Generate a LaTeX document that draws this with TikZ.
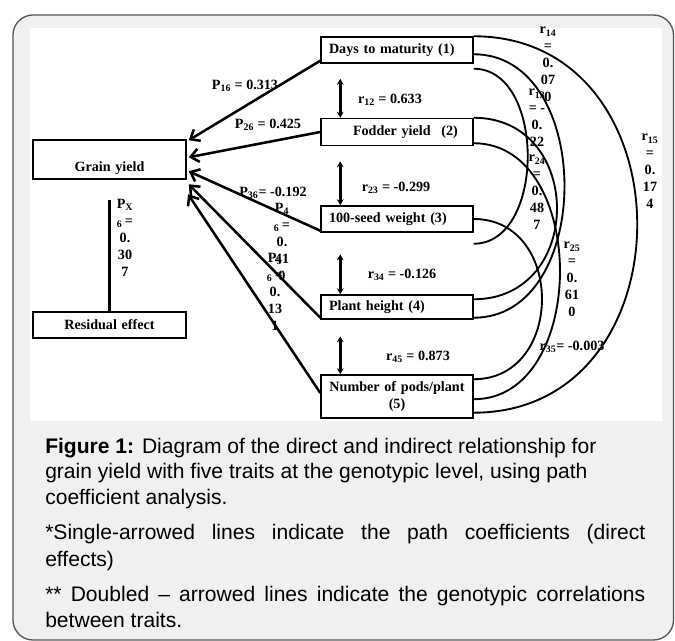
\documentclass[tikz,border=0pt]{standalone}
\usepackage{fontspec}
\setmainfont{Liberation Serif}
\newfontfamily\capfont{Liberation Sans}
\usepackage{tikz}
\usetikzlibrary{arrows.meta}

\definecolor{pagegray}{RGB}{239,240,242}
\definecolor{framegray}{RGB}{85,85,85}

\tikzset{
	trait/.style={draw, rectangle, line width=1.1pt, minimum width=114pt, text width=108pt, inner xsep=3pt, align=left, font=\fontsize{10.6}{12.75}\selectfont\bfseries},
	lbl/.style={inner sep=0pt, font=\fontsize{10.6}{12.75}\selectfont\bfseries},
	stack/.style={lbl, anchor=north, align=center},
	parr/.style={line width=1.9pt, -{Straight Barb[length=6pt,width=10pt]}},
	dbl/.style={line width=1.9pt, {Stealth[length=4.5pt,width=5pt]}-{Stealth[length=4.5pt,width=5pt]}},
	corr/.style={line width=1.4pt},
	captext/.style={anchor=base west, inner sep=0pt, font=\capfont\fontsize{15.8}{18.75}\selectfont}
}

\begin{document}
\begin{tikzpicture}[x=0.75pt, y=-0.75pt]
	\useasboundingbox (0,0) rectangle (675,641);
	\draw[framegray, fill=pagegray, line width=1pt, rounded corners=15pt] (13,15) rectangle (673.5,640);
	\fill[white] (30,28) rectangle (662,421);
	
	% traits
	\node[trait, minimum height=19.5pt] (TR1) at (397,50) {\hspace*{3pt}Days to maturity (1)};
	\node[trait, minimum height=20.25pt, below of=TR1, node distance=61.5pt] (TR2) {\hspace*{21pt}Fodder yield\hspace{8pt}(2)};
	\node[trait, minimum height=19.5pt, below of=TR2, node distance=65.25pt] (TR3) {\hspace*{3pt}100-seed weight (3)};
	\node[trait, minimum height=18pt, below of=TR3, node distance=66pt] (TR4) {\hspace*{3pt}Plant height (4)};
	\node[trait, minimum height=32.25pt, align=center, below of=TR4, node distance=67.1pt] (TR5) {Number of pods/plant\\(5)};
	
	\node[trait, align=center, minimum width=114.75pt, text height=21.75pt, text depth=3pt, inner ysep=2.25pt] (GY) at (109.5,159.5) {Grain yield};
	\node[trait, align=center, minimum width=114.75pt, minimum height=19.5pt, below of=GY, node distance=124.1pt] (RES) {Residual effect};
	
	% labels
	\node[lbl] (P16) at (245,86) {P\textsubscript{16} = 0.313};
	\node[lbl] (P26) at (268,125) {P\textsubscript{26} = 0.425};
	\node[lbl] (P36) at (273,193) {P\textsubscript{36}= -0.192};
	\node[stack] (P46) at (282,203) {P\textsubscript{4}\\\textsubscript{6}\,=\\0.\\41\\0};
	\node[stack] (P56) at (275,253) {P\textsubscript{5}\\\textsubscript{6}\,=\\0.\\13\\1};
	\node[stack] (PX6) at (125,199) {P\textsubscript{X}\\\textsubscript{6}\,=\\0.\\30\\7};
	
	\node[lbl] (R12) at (390,100) {r\textsubscript{12} = 0.633};
	\node[lbl] (R23) at (396,188) {r\textsubscript{23} = -0.299};
	\node[lbl] (R34) at (402,275) {r\textsubscript{34} = -0.126};
	\node[lbl] (R45) at (418,357) {r\textsubscript{45} = 0.873};
	
	\node[stack] (R14) at (548,27) {r\textsubscript{14}\\=\\0.\\07\\0};
	\node[stack] (R13) at (537,89) {r\textsubscript{13}\\= -\\0.\\22};
	\node[stack] (R24) at (537,155) {r\textsubscript{24}\\=\\0.\\48\\7};
	\node[stack] (R15) at (650,134) {r\textsubscript{15}\\=\\0.\\17\\4};
	\node[stack] (R25) at (572,242) {r\textsubscript{25}\\=\\0.\\61\\0};
	\node[lbl] (R35) at (572,347) {r\textsubscript{35}= -0.003};
	
	% direct effects
	\draw[parr] ([yshift=2.25pt]TR1.south west) -- ([xshift=1.5pt,yshift=-0.75pt]GY.north east);
	\draw[parr] (TR2.west) -- ([xshift=1.5pt,yshift=-13.5pt]GY.north east);
	\draw[parr] ([yshift=1.5pt]TR3.south west) -- ([xshift=1.5pt,yshift=-24pt]GY.north east);
	\draw[parr] ([yshift=1.5pt]TR4.south west) -- ([xshift=1.5pt,yshift=-33.75pt]GY.north east);
	\draw[parr] ([yshift=2.6pt]TR5.west) -- ([xshift=1pt,yshift=-41.25pt]GY.north east);
	
	\coordinate (PXT) at (109.5,200);
	\draw[line width=1.6pt] (RES.north) -- (PXT);
	
	% correlations between neighbours
	\draw[dbl] ([xshift=15pt,yshift=29.25pt]TR2.north west) -- ([xshift=15pt]TR2.north west);
	\draw[dbl] ([xshift=15pt,yshift=33pt]TR3.north west) -- ([xshift=15pt]TR3.north west);
	\draw[dbl] ([xshift=15pt,yshift=30pt]TR4.north west) -- ([xshift=15pt]TR4.north west);
	\draw[dbl] ([xshift=15pt,yshift=28.5pt]TR5.north west) -- ([xshift=15pt]TR5.north west);
	
	% correlations, curved
	\draw[corr] (TR1.north east) .. controls +(218,0) and +(218,0) .. ([yshift=4.5pt]TR5.south east);
	\draw[corr] ([yshift=-13.5pt]TR1.north east) .. controls +(121,0) and +(121,0) .. ([yshift=1.5pt]TR4.south east);
	\draw[corr] ([yshift=-3.75pt]TR1.south east) .. controls +(72,0) and +(72,0) .. ([yshift=-8.25pt]TR3.south east);
	\draw[corr] (TR2.north east) .. controls +(111,0) and +(111,0) .. ([yshift=-3.75pt]TR4.north east);
	\draw[corr] ([yshift=2.25pt]TR2.south east) .. controls +(115,0) and +(115,0) .. ([yshift=-18.75pt]TR5.north east);
	\draw[corr] (TR3.east) .. controls +(91,0) and +(91,0) .. ([yshift=-3.75pt]TR5.north east);
	
	% caption
	\node[captext] (CAP1) at (45,454) {{\bfseries Figure 1:} Diagram of the direct and indirect relationship for};
	\node[captext] (CAP2) at (45,479) {grain yield with five traits at the genotypic level, using path};
	\node[captext] (CAP3) at (45,504) {coefficient analysis.};
	\node[captext] (CAP4) at (45,540) {\makebox[450pt][s]{*Single-arrowed lines indicate the path coefficients (direct}};
	\node[captext] (CAP5) at (45,566) {effects)};
	\node[captext] (CAP6) at (45,601) {\makebox[450pt][s]{** Doubled \textendash{} arrowed lines indicate the genotypic correlations}};
	\node[captext] (CAP7) at (45,627) {between traits.};
\end{tikzpicture}
\end{document}
